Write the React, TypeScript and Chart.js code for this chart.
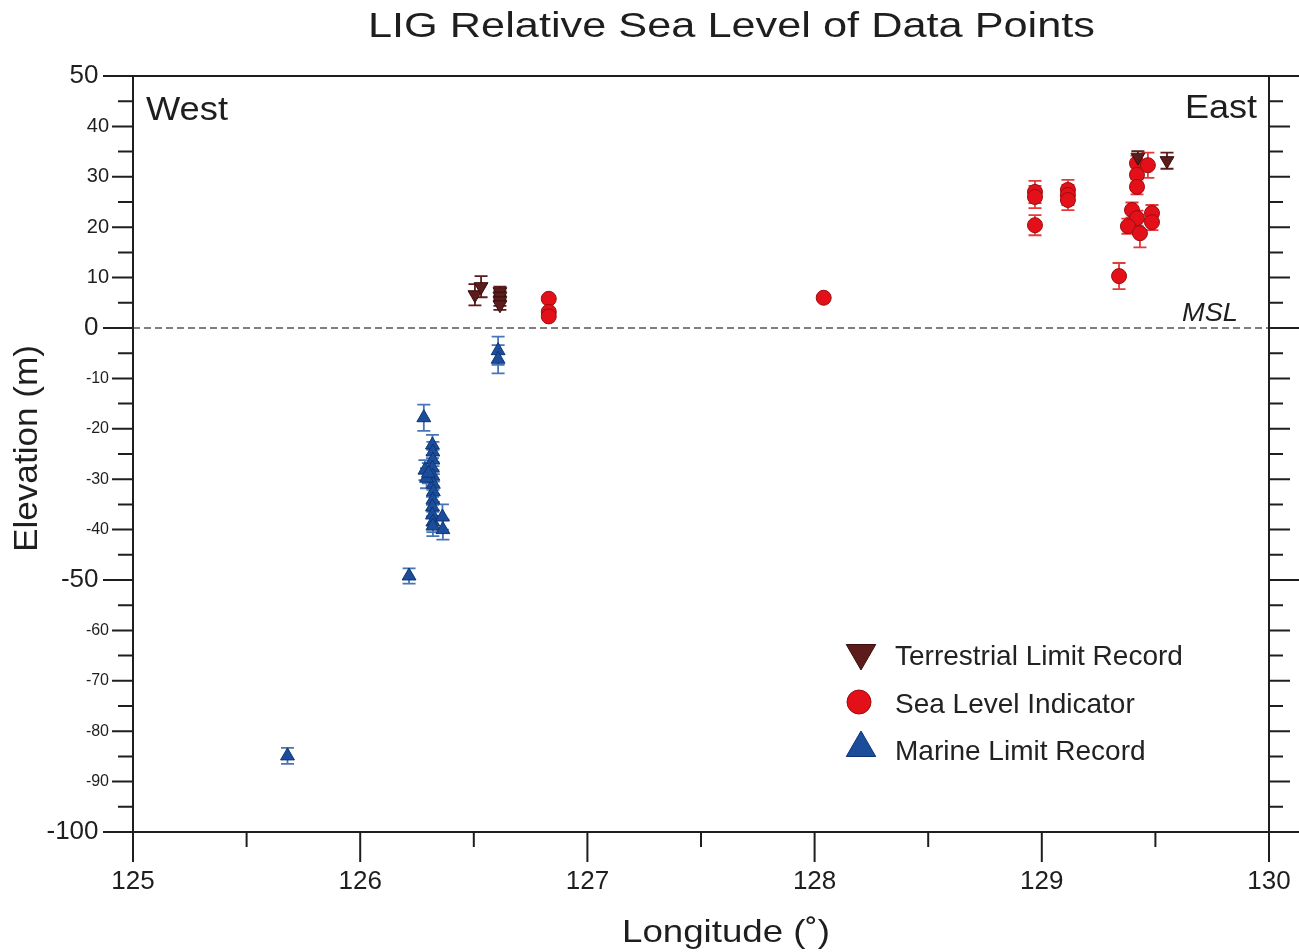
import React, { useEffect, useRef } from 'react';
import { Chart, registerables } from 'chart.js';

Chart.register(...registerables);

const FONT = '"Liberation Sans", Arial, Helvetica, sans-serif';

// ---- Axis settings / tick labels ----
const xMin = 125;
const xMax = 130;
const yMin = -100;
const yMax = 50;
const bigYLabels = [50, 0, -50, -100];

// ---- Terrestrial Limit Record (inverted triangles) ----
const terrLon = [126.505, 126.532, 126.615, 126.615, 126.615, 126.615, 129.423, 129.551];
const terrElev = [6.6, 8.2, 7.2, 6.3, 5.4, 4.6, 33.9, 33.2];
const terrErr = [2.1, 2.1, 1.0, 1.0, 1.0, 1.0, 1.2, 1.6];

// ---- Sea Level Indicator (circles) ----
const seaLon = [126.83, 126.83, 126.83, 128.04, 128.97, 128.97, 128.97, 129.115, 129.115, 129.115, 129.34,
  129.419, 129.419, 129.419, 129.467, 129.397, 129.419, 129.379, 129.432, 129.485, 129.485];
const seaElev = [5.8, 3.2, 2.3, 6.0, 27.0, 26.0, 20.4, 27.4, 26.4, 25.4, 10.3,
  32.7, 30.4, 28.0, 32.3, 23.4, 21.8, 20.2, 18.8, 22.8, 21.0];
const seaErr = [0.5, 0.5, 0.5, 0.4, 2.2, 2.2, 2.0, 2.0, 2.0, 2.0, 2.6,
  1.5, 1.5, 1.5, 2.5, 1.5, 1.5, 1.5, 2.8, 1.6, 1.6];

// ---- Marine Limit Record (triangles) ----
const marLon = [125.68, 126.215, 126.28, 126.318, 126.32, 126.32, 126.318, 126.32, 126.322, 126.322, 126.32,
  126.318, 126.318, 126.32, 126.32, 126.285, 126.292, 126.3, 126.362, 126.364, 126.607, 126.607];
const marElev = [-84.9, -49.2, -17.8, -23.2, -24.6, -26.2, -27.8, -29.4, -31.0, -32.5, -34.1,
  -35.5, -37.1, -38.5, -39.3, -28.2, -29.8, -28.8, -37.5, -40.0, -4.5, -6.2];
const marErr = [1.6, 1.5, 2.6, 2.0, 2.0, 2.0, 2.0, 2.0, 2.0, 2.0, 2.0,
  2.0, 2.0, 2.0, 2.0, 2.0, 2.0, 2.0, 2.5, 2.0, 2.8, 2.8];

const legendLabels = ['Terrestrial Limit Record', 'Sea Level Indicator', 'Marine Limit Record'];

const zip = (xs: number[], ys: number[], es: number[]) => xs.map((x, i) => ({ x, y: ys[i], e: es[i] }));

const fitText = (ctx: CanvasRenderingContext2D, text: string, left: number, baseline: number, width: number, font: string) => {
  ctx.save();
  ctx.font = font;
  ctx.textAlign = 'left';
  ctx.textBaseline = 'alphabetic';
  const w = ctx.measureText(text).width;
  ctx.translate(left, baseline);
  ctx.scale(width / w, 1);
  ctx.fillText(text, 0, 0);
  ctx.restore();
};

const errorBarPlugin = {
  id: 'errorBars',
  beforeDatasetsDraw(chart: any) {
    const { ctx, chartArea, scales } = chart;
    const x = scales.x;
    const y = scales.y;
    ctx.save();
    // MSL dashed line
    const y0 = y.getPixelForValue(0);
    ctx.strokeStyle = '#555';
    ctx.lineWidth = 1.5;
    ctx.setLineDash([7, 4]);
    ctx.beginPath();
    ctx.moveTo(chartArea.left, y0);
    ctx.lineTo(chartArea.right, y0);
    ctx.stroke();
    ctx.setLineDash([]);
    chart.data.datasets.forEach((ds: any) => {
      ctx.strokeStyle = ds.errColor;
      ctx.lineWidth = 1.8;
      ds.data.forEach((p: any) => {
        const px = x.getPixelForValue(p.x);
        const top = y.getPixelForValue(p.y + p.e);
        const bot = y.getPixelForValue(p.y - p.e);
        ctx.beginPath();
        ctx.moveTo(px, top);
        ctx.lineTo(px, bot);
        ctx.moveTo(px - 6.5, top);
        ctx.lineTo(px + 6.5, top);
        ctx.moveTo(px - 6.5, bot);
        ctx.lineTo(px + 6.5, bot);
        ctx.stroke();
      });
    });
    ctx.restore();
  },
};

const drawTri = (ctx: CanvasRenderingContext2D, cx: number, cy: number, r: number, down: boolean) => {
  const s = Math.sin(Math.PI / 3) * r;
  ctx.beginPath();
  if (down) {
    ctx.moveTo(cx, cy + r);
    ctx.lineTo(cx - s, cy - r / 2);
    ctx.lineTo(cx + s, cy - r / 2);
  } else {
    ctx.moveTo(cx, cy - r);
    ctx.lineTo(cx - s, cy + r / 2);
    ctx.lineTo(cx + s, cy + r / 2);
  }
  ctx.closePath();
};

const frameAndTextPlugin = {
  id: 'frameText',
  afterDraw(chart: any) {
    const { ctx, chartArea, scales } = chart;
    const x = scales.x;
    const y = scales.y;
    const L = chartArea.left;
    const R = chartArea.right;
    const T = chartArea.top;
    const B = chartArea.bottom;
    ctx.save();
    ctx.strokeStyle = '#1e1e1e';
    ctx.lineWidth = 2;
    ctx.beginPath();
    ctx.moveTo(L, T);
    ctx.lineTo(L, B);
    ctx.moveTo(R, T);
    ctx.lineTo(R, B);
    ctx.moveTo(L, T);
    ctx.lineTo(R, T);
    ctx.moveTo(L, B);
    ctx.lineTo(R, B);
    ctx.stroke();
    // y ticks (both sides)
    for (let v = yMin; v <= yMax; v += 5) {
      const py = y.getPixelForValue(v);
      const major = v % 10 === 0;
      const big = bigYLabels.includes(v);
      const lenL = big ? 30 : major ? 21 : 15;
      const lenR = big ? 30 : major ? 21 : 14;
      ctx.beginPath();
      ctx.moveTo(L - lenL, py);
      ctx.lineTo(L, py);
      ctx.moveTo(R, py);
      ctx.lineTo(R + lenR, py);
      ctx.stroke();
    }
    // x ticks (bottom)
    for (let v = xMin; v <= xMax + 1e-9; v += 0.5) {
      const px = x.getPixelForValue(v);
      const major = Math.abs(v - Math.round(v)) < 1e-6;
      const len = major ? 30 : 15;
      ctx.beginPath();
      ctx.moveTo(px, B);
      ctx.lineTo(px, B + len);
      ctx.stroke();
    }
    ctx.fillStyle = '#1e1e1e';
    // Title
    fitText(ctx, 'LIG Relative Sea Level of Data Points', 368, 37, 727, `35px ${FONT}`);
    // West / East
    fitText(ctx, 'West', 146, 120, 82, `34px ${FONT}`);
    fitText(ctx, 'East', 1185, 118, 72, `33px ${FONT}`);
    // MSL
    fitText(ctx, 'MSL', 1182, 321, 56, `italic 25px ${FONT}`);
    // Axis titles
    fitText(ctx, 'Longitude (˚)', 622, 942, 208, `32px ${FONT}`);
    ctx.save();
    ctx.translate(37, 552);
    ctx.rotate(-Math.PI / 2);
    fitText(ctx, 'Elevation (m)', 0, 0, 207, `34px ${FONT}`);
    ctx.restore();
    // Legend
    const ds = chart.data.datasets;
    const legY = [653, 702, 748];
    const legBase = [665, 713, 760];
    ds.forEach((d: any, i: number) => {
      ctx.fillStyle = d.backgroundColor;
      ctx.strokeStyle = d.borderColor;
      ctx.lineWidth = 1;
      if (i === 1) {
        ctx.beginPath();
        ctx.arc(859, legY[i], 12, 0, Math.PI * 2);
      } else {
        drawTri(ctx, 861, legY[i], 17, i === 0);
      }
      ctx.fill();
      ctx.stroke();
      ctx.fillStyle = '#222';
      ctx.font = `28px ${FONT}`;
      ctx.textAlign = 'left';
      ctx.textBaseline = 'alphabetic';
      ctx.fillText(legendLabels[i], 895, legBase[i]);
    });
    ctx.restore();
  },
};

export default function App() {
  const canvasRef = useRef<HTMLCanvasElement | null>(null);

  useEffect(() => {
    document.body.style.margin = '0';
    document.body.style.overflow = 'hidden';
    const canvas = canvasRef.current;
    if (!canvas) return;
    const chart = new Chart(canvas, {
      type: 'scatter',
      data: {
        datasets: [
          {
            label: legendLabels[0],
            data: zip(terrLon, terrElev, terrErr),
            pointStyle: 'triangle',
            rotation: 180,
            pointRadius: 8,
            backgroundColor: '#5c1c1c',
            borderColor: '#3a0e0e',
            borderWidth: 1,
            errColor: '#5c1c1c',
          } as any,
          {
            label: legendLabels[1],
            data: zip(seaLon, seaElev, seaErr),
            pointStyle: 'circle',
            pointRadius: 7.5,
            backgroundColor: '#e3101a',
            borderColor: '#9b0c10',
            borderWidth: 1,
            errColor: '#e53a3a',
          } as any,
          {
            label: legendLabels[2],
            data: zip(marLon, marElev, marErr),
            pointStyle: 'triangle',
            pointRadius: 8,
            backgroundColor: '#1b4d9b',
            borderColor: '#0d3475',
            borderWidth: 1,
            errColor: '#4775b5',
          } as any,
        ],
      },
      options: {
        responsive: false,
        animation: false,
        events: [],
        layout: { padding: { top: 76, right: 30, left: 0, bottom: 0 } },
        plugins: {
          legend: { display: false },
          tooltip: { enabled: false },
          title: { display: false },
        },
        scales: {
          x: {
            type: 'linear',
            position: 'bottom',
            min: xMin,
            max: xMax,
            grid: { display: false, drawTicks: false },
            border: { display: false },
            ticks: {
              stepSize: 1,
              autoSkip: false,
              padding: 34,
              color: '#1e1e1e',
              font: { family: FONT, size: 26 },
              callback: (v: any) => String(v),
            },
            afterFit: (s: any) => { s.height = 120; s.paddingLeft = 0; s.paddingRight = 0; },
          },
          // outer left axis: the data axis with the small labels
          y: {
            type: 'linear',
            position: 'left',
            weight: 1,
            min: yMin,
            max: yMax,
            grid: { display: false, drawTicks: false },
            border: { display: false },
            ticks: {
              stepSize: 10,
              autoSkip: false,
              padding: 24,
              color: '#1e1e1e',
              font: (c: any) => ({ family: FONT, size: c.tick && c.tick.value > 0 ? 20 : 16 }),
              callback: (v: any) => (bigYLabels.includes(Number(v)) ? '' : String(v)),
            },
            afterFit: (s: any) => { s.width = 133; s.paddingTop = 0; s.paddingBottom = 0; },
          },
          // inner zero-width axis for the large labels (50, 0, -50, -100)
          y2: {
            type: 'linear',
            position: 'left',
            weight: 0,
            min: yMin,
            max: yMax,
            grid: { display: false, drawTicks: false },
            border: { display: false },
            ticks: {
              stepSize: 10,
              autoSkip: false,
              mirror: true,
              crossAlign: 'far',
              padding: -86.5,
              color: '#1e1e1e',
              font: { family: FONT, size: 26 },
              callback: (v: any) => (bigYLabels.includes(Number(v)) ? String(v) : ''),
            },
            afterFit: (s: any) => { s.width = 0; s.paddingTop = 0; s.paddingBottom = 0; },
          },
        },
      } as any,
      plugins: [errorBarPlugin, frameAndTextPlugin],
    });
    return () => chart.destroy();
  }, []);

  return (
    <div style={{ width: 1299, height: 952 }}>
      <canvas ref={canvasRef} width={1299} height={952} style={{ display: 'block' }} />
    </div>
  );
}
